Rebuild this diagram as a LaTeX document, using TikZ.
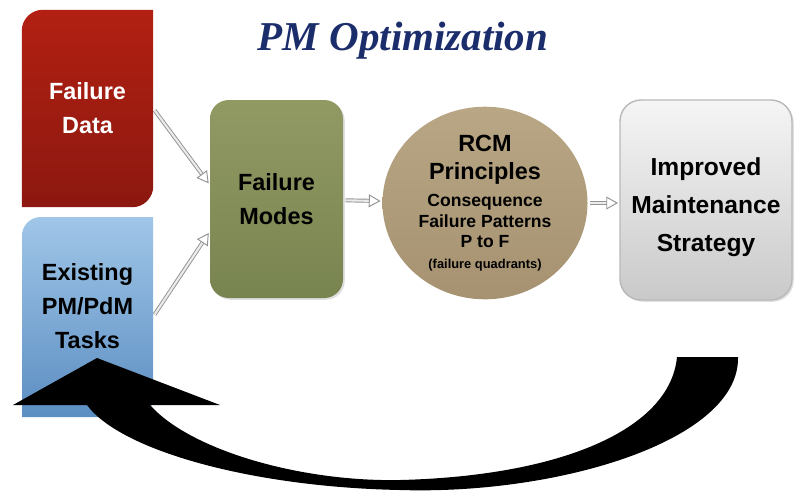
\documentclass[tikz,border=0pt]{standalone}
\usepackage{fontspec}
\setmainfont{Liberation Serif}
\setsansfont{Liberation Sans}
\usetikzlibrary{arrows.meta}
\usetikzlibrary{shapes.geometric}
\usetikzlibrary{shadows}
\usetikzlibrary{backgrounds,positioning}
\definecolor{pmred}{RGB}{178,32,18}
\definecolor{pmreddark}{RGB}{140,24,16}
\definecolor{pmblue}{RGB}{160,198,232}
\definecolor{pmbluedark}{RGB}{92,142,194}
\definecolor{pmgreen}{RGB}{146,154,100}
\definecolor{pmgreendark}{RGB}{120,132,80}
\definecolor{pmtan}{RGB}{184,166,132}
\definecolor{pmtandark}{RGB}{166,146,112}
\definecolor{pmnavy}{RGB}{27,45,107}
\newcommand{\boxfont}{\sffamily\bfseries\fontsize{20}{29}\selectfont}
\newcommand{\rcmline}[1]{{\fontsize{20}{24}\selectfont #1}}

\begin{document}
\begin{tikzpicture}[x=0.03cm,y=-0.03cm]
      \tikzstyle{every node}=[align=center,inner sep=0pt]
      \tikzstyle{block}=[rectangle,font=\boxfont]
      \tikzstyle{boxshadow}=[drop shadow={opacity=0.25,shadow xshift=1.5pt,shadow yshift=-1.5pt}]
      \tikzstyle{flow}=[draw=gray!85,double=gray!15,double distance=1.8pt,line width=0.8pt,
                        -{Triangle[open,length=10pt,width=11pt]},shorten >=1.5pt,shorten <=2pt]
      \useasboundingbox (0,0) rectangle (795,491);

      \node[font=\rmfamily\bfseries\itshape\fontsize{35}{40}\selectfont,text=pmnavy,anchor=base] (title) at (403,50) {PM Optimization};

      \node[block,text=white,minimum width=3.93cm,minimum height=5.91cm] (data)  at (87.5,108.5) {Failure\\Data};
      \node[block,minimum width=3.93cm] (tasks) at (87.5,306) {Existing\\PM/PdM\\Tasks};
      \node[block,minimum width=3.99cm,minimum height=5.94cm,rounded corners=16pt,
            top color=pmgreen,bottom color=pmgreendark,boxshadow] (modes) at (276.5,199) {Failure\\Modes};
      \node[ellipse,minimum width=6.15cm,minimum height=5.7cm,top color=pmtan,bottom color=pmtandark,
            font=\sffamily\bfseries\fontsize{15}{17}\selectfont] (rcm) at (485,203)
            {\rcmline{RCM}\\[7pt]\rcmline{Principles}\\[6pt]Consequence\\[1pt]Failure Patterns\\P to F\\[1pt]
             {\fontsize{11}{13}\selectfont (failure quadrants)}};
      \node[block,minimum width=5.16cm,font=\sffamily\bfseries\fontsize{21}{32.5}\selectfont] (strategy) at (706,207)
            {Improved\\Maintenance\\Strategy};

      \begin{scope}[on background layer]
        % boxes with two round corners only
        \shade[top color=pmred,bottom color=pmreddark] (data.south west) -- ([yshift=-18pt]data.north west)
              arc[start angle=180,end angle=90,radius=18pt] -- (data.north east)
              -- ([yshift=18pt]data.south east) arc[start angle=0,end angle=-90,radius=18pt] -- cycle;
        \shade[top color=pmblue,bottom color=pmbluedark] (22,417) -- ([yshift=-16pt]22,217)
              arc[start angle=180,end angle=90,radius=16pt] -- (153,217)
              -- ([yshift=16pt]153,417) arc[start angle=0,end angle=-90,radius=16pt] -- cycle;
        \shade[boxshadow,rounded corners=18pt,draw=gray!55,line width=1.2pt,top color=gray!8,bottom color=gray!42]
              (620,100) rectangle (792,300);
      \end{scope}

      \draw[flow] (data.east)                -- (modes.168);
      \draw[flow] ([yshift=-9pt]tasks.east)  -- (modes.206);
      \draw[flow] (modes)                    -- (rcm);
      \draw[flow] (rcm.east)                 -- (rcm.east -| strategy.west);

      % feedback swoosh back to the tasks
      \fill[black] (738,357) .. controls (740,440) and (560,495) .. (400,490)
                   .. controls (250,487) and (120,450) .. (87,405) -- (13,405) -- (97,358) -- (220,405) -- (150,405)
                   .. controls (190,450) and (300,482) .. (400,480)
                   .. controls (560,476) and (670,430) .. (677,357) -- cycle;
    \end{tikzpicture}
\end{document}
